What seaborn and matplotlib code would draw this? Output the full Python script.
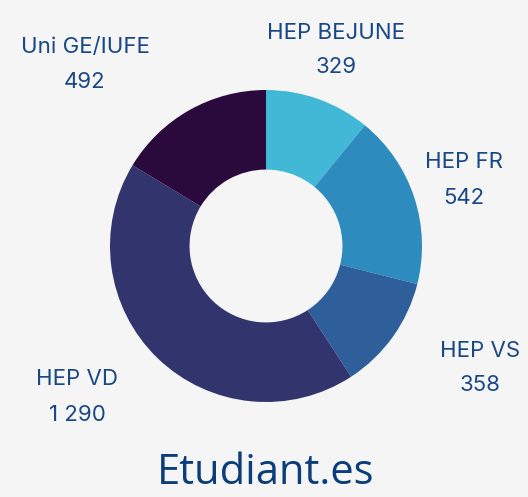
import matplotlib
matplotlib.use("Agg")
import matplotlib.pyplot as plt
import seaborn as sns

# data
schools = ["HEP BEJUNE", "HEP FR", "HEP VS", "HEP VD", "Uni GE/IUFE"]
students = [329, 542, 358, 1290, 492]
value_labels = ["329", "542", "358", "1 290", "492"]
colors = ["#41b8d6", "#2d8bbd", "#2e5f9a", "#32346d", "#2a0a3d"]

# label centers in pixels: x, y of name line, y of value line (from top)
label_px = [(336, 31, 65), (464, 160, 196), (480, 349, 383),
            (77, 377, 413), (85, 45, 80)]

sns.set_theme(style="white")
plt.rcParams["font.family"] = ["Inter", "DejaVu Sans"]

W, H = 528, 497
CX, CY, R = 266, 246, 156

fig = plt.figure(figsize=(W / 100, H / 100), dpi=100)
fig.patch.set_facecolor("#f5f5f5")
ax = fig.add_axes([0, 0, 1, 1])
ax.set_facecolor("#f5f5f5")

ax.pie(students, colors=colors, startangle=90, counterclock=False,
       radius=1, wedgeprops=dict(width=0.51, linewidth=0))

ax.set_xlim(-CX / R, (W - CX) / R)
ax.set_ylim(-(H - CY) / R, CY / R)
ax.set_aspect("equal")
ax.axis("off")

text_color = "#1a4785"
for name, val, (px, py1, py2) in zip(schools, value_labels, label_px):
    x = (px - CX) / R
    ax.text(x, (CY - py1) / R, name, ha="center", va="center_baseline",
            fontsize=16, color=text_color)
    ax.text(x, (CY - py2) / R, val, ha="center", va="center_baseline",
            fontsize=16, color=text_color)

ax.text(0, (CY - 484) / R, "Etudiant.es", ha="center", va="baseline",
        fontsize=30, color="#0b3d7a", family=["Open Sans", "DejaVu Sans"])

fig.savefig("out.png", dpi=100, facecolor=fig.get_facecolor())
